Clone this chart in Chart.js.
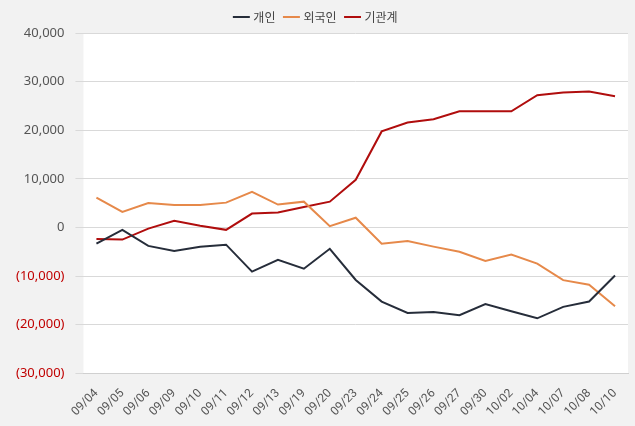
<!DOCTYPE html>
<html>
<head>
<meta charset="utf-8">
<script src="https://cdn.jsdelivr.net/npm/chart.js@4"></script>
<style>
  html, body { margin: 0; padding: 0; background: #f2f2f2; }
  #wrap { width: 635px; height: 426px; }
</style>
</head>
<body>
<div id="wrap"><canvas id="c"></canvas></div>
<script>
const dates = ['09/04','09/05','09/06','09/09','09/10','09/11','09/12','09/13','09/19','09/20','09/23','09/24','09/25','09/26','09/27','09/30','10/02','10/04','10/07','10/08','10/10'];
const individual = [-3350,-500,-3800,-4850,-4000,-3550,-9100,-6650,-8500,-4400,-10800,-15250,-17600,-17400,-18050,-15750,-17250,-18700,-16350,-15250,-9900];
const foreign = [6150,3200,5000,4600,4600,5100,7300,4700,5300,250,2000,-3350,-2800,-3950,-5000,-6900,-5600,-7450,-10850,-11800,-16200];
const institution = [-2400,-2500,-250,1350,350,-500,2850,3050,4200,5300,9800,19750,21600,22250,23900,23900,23900,27200,27750,27950,27000];

const bgPlugin = {
  id: 'bg',
  beforeDraw(chart) {
    const { ctx, chartArea: a } = chart;
    ctx.save();
    ctx.fillStyle = '#f2f2f2';
    ctx.fillRect(0, 0, chart.width, chart.height);
    ctx.fillStyle = '#ffffff';
    ctx.fillRect(a.left, a.top, a.right - a.left, a.bottom - a.top);
    ctx.restore();
  }
};

const fmt = v => v < 0 ? '(' + Math.abs(v).toLocaleString('en-US') + ')' : v.toLocaleString('en-US');
const line = (label, data, color) => ({ label, data, borderColor: color, backgroundColor: color, borderWidth: 2, pointRadius: 0, tension: 0, fill: false });

new Chart(document.getElementById('c'), {
  type: 'line',
  data: {
    labels: dates,
    datasets: [
      line('개인', individual, '#262d3a'),
      line('외국인', foreign, '#e6894a'),
      line('기관계', institution, '#b00d0d')
    ]
  },
  options: {
    responsive: true,
    maintainAspectRatio: false,
    animation: false,
    layout: { padding: { top: 1, right: 7, left: 5, bottom: 2 } },
    plugins: {
      legend: {
        position: 'top',
        labels: { usePointStyle: true, pointStyle: 'line', boxWidth: 26, padding: 10, color: '#444', font: { family: 'Noto Sans CJK KR', size: 12 } }
      },
      tooltip: { enabled: false }
    },
    scales: {
      x: {
        offset: true,
        grid: { display: false },
        border: { color: '#d0d0d0' },
        ticks: { color: '#555', maxRotation: 45, minRotation: 45, padding: 5, font: { family: 'Roboto', size: 12 } }
      },
      y: {
        min: -30000, max: 40000,
        grid: { color: '#d9d9d9' },
        border: { display: false },
        ticks: {
          stepSize: 10000, padding: 11,
          callback: fmt,
          color: ctx => ctx.tick.value < 0 ? '#c00000' : '#555',
          font: { family: 'Noto Sans', size: 13 }
        }
      }
    }
  },
  plugins: [bgPlugin]
});
</script>
</body>
</html>
